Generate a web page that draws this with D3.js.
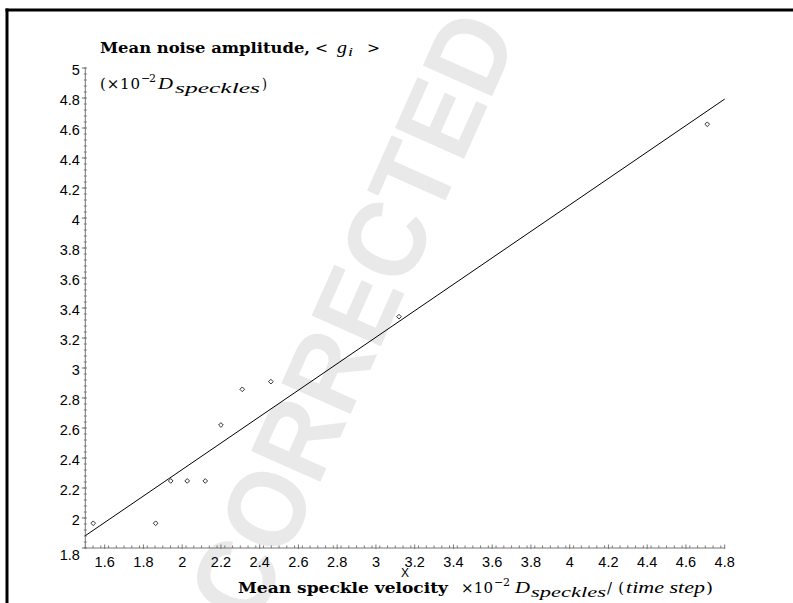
<!DOCTYPE html>
<html><head><meta charset="utf-8">
<script src="https://cdn.jsdelivr.net/npm/d3@7"></script>
<style>
body{margin:0;background:#fff;}
svg{display:block;}
</style></head>
<body>
<svg id="c" width="793" height="603"></svg>
<script>
// Data
const velocity = [1.541, 1.863, 1.941, 2.026, 2.119, 2.200, 2.310, 2.458, 3.119, 4.710];
const amplitude = [1.965, 1.965, 2.247, 2.247, 2.247, 2.620, 2.858, 2.909, 3.342, 4.625];
const fitX = [1.5, 4.8];
const fitY = [1.882, 4.793];
const xMajor = [1.6,1.8,2.0,2.2,2.4,2.6,2.8,3.0,3.2,3.4,3.6,3.8,4.0,4.2,4.4,4.6,4.8];
const yMajor = [1.8,2.0,2.2,2.4,2.6,2.8,3.0,3.2,3.4,3.6,3.8,4.0,4.2,4.4,4.6,4.8,5.0];
const xDomain = [1.5, 4.8];
const yDomain = [1.8, 5.0];

const svg = d3.select("#c");
const x = d3.scaleLinear().domain(xDomain).range([85.3, 724.7]);
const y = d3.scaleLinear().domain(yDomain).range([548, 68]);

// watermark
svg.append("text")
  .attr("transform","translate(352,316) rotate(-66)")
  .attr("text-anchor","middle").attr("dominant-baseline","central")
  .attr("font-family","Liberation Sans, Arial, sans-serif")
  .attr("font-size",110).attr("font-weight","bold").attr("fill","#e9e9e9")
  .attr("textLength",650).attr("lengthAdjust","spacingAndGlyphs")
  .text("CORRECTED");

// frame
svg.append("line").attr("x1",5.5).attr("x2",793).attr("y1",10).attr("y2",10).attr("stroke","#000").attr("stroke-width",3);
svg.append("line").attr("x1",7).attr("x2",7).attr("y1",8.5).attr("y2",603).attr("stroke","#000").attr("stroke-width",3);

const axisCol = "#777";
const xMinor = d3.range(0, 83).map(i => xDomain[0] + i*0.04).filter(v => v <= xDomain[1]+1e-9);
const yMinor = d3.range(0, 81).map(i => yDomain[0] + i*0.04).filter(v => v <= yDomain[1]+1e-9);

const gx = svg.append("g");
gx.append("line").attr("x1",x(xDomain[0])).attr("x2",x(xDomain[1])).attr("y1",y(yDomain[0])).attr("y2",y(yDomain[0])).attr("stroke",axisCol);
gx.selectAll(".mn").data(xMinor).join("line")
  .attr("x1",d=>x(d)).attr("x2",d=>x(d)).attr("y1",y(yDomain[0])).attr("y2",y(yDomain[0])-2.5)
  .attr("stroke",axisCol).attr("stroke-width",1);
gx.selectAll(".mj").data(xMajor).join("line")
  .attr("x1",d=>x(d)).attr("x2",d=>x(d)).attr("y1",y(yDomain[0])+1).attr("y2",y(yDomain[0])-3.5)
  .attr("stroke",axisCol).attr("stroke-width",1);
gx.selectAll("text").data(xMajor).join("text")
  .attr("x",d=>x(d)).attr("y",y(yDomain[0])+19)
  .attr("text-anchor","middle")
  .attr("font-family","Liberation Sans, Arial, sans-serif").attr("font-size",14.5)
  .text(d=>d3.format("~g")(d));

const gy = svg.append("g");
gy.append("line").attr("x1",x(xDomain[0])).attr("x2",x(xDomain[0])).attr("y1",y(yDomain[0])).attr("y2",y(yDomain[1])).attr("stroke",axisCol);
gy.selectAll(".mn").data(yMinor).join("line")
  .attr("x1",x(xDomain[0])-1.5).attr("x2",x(xDomain[0])+1.5).attr("y1",d=>y(d)).attr("y2",d=>y(d))
  .attr("stroke",axisCol).attr("stroke-width",1);
gy.selectAll(".mj").data(yMajor).join("line")
  .attr("x1",x(xDomain[0])-3.5).attr("x2",x(xDomain[0])+1).attr("y1",d=>y(d)).attr("y2",d=>y(d))
  .attr("stroke",axisCol).attr("stroke-width",1);
gy.selectAll("text").data(yMajor).join("text")
  .attr("x",x(xDomain[0])-5.5).attr("y",d=>y(d) + (d===yDomain[0] ? 12 : 7))
  .attr("text-anchor","end")
  .attr("font-family","Liberation Sans, Arial, sans-serif").attr("font-size",14.5)
  .text(d=>d3.format("~g")(d));

// fit line
svg.append("line")
  .attr("x1",x(fitX[0])).attr("y1",y(fitY[0])).attr("x2",x(fitX[1])).attr("y2",y(fitY[1]))
  .attr("stroke","#000").attr("stroke-width",1);

// points (diamonds)
const pts = velocity.map((v,i)=>[v, amplitude[i]]);
svg.selectAll(".pt").data(pts).join("path")
  .attr("d", d3.symbol().type(d3.symbolDiamond2).size(14))
  .attr("transform", d=>`translate(${x(d[0])},${y(d[1])})`)
  .attr("fill","#fff").attr("stroke","#000").attr("stroke-width",0.8);

// titles (math set as fragments)
const up = "DejaVu Serif, Liberation Serif, serif";
const it = "Liberation Serif, Times New Roman, serif";
function frag(x0, x1, yb, str, o) {
  o = o || {};
  const t = svg.append("text").attr("x",x0).attr("y",yb)
    .attr("font-family", o.italic ? it : up)
    .attr("font-size", o.size || 15)
    .attr("textLength", x1 - x0).attr("lengthAdjust", o.adj || "spacing")
    .text(str);
  if (o.bold) t.attr("font-weight","bold");
  if (o.italic) t.attr("font-style","italic");
  return t;
}
// y title line 1
frag(100, 310, 53, "Mean noise amplitude,", {bold:true, size:15.5, adj:"spacingAndGlyphs"});
frag(315, 328, 53, "<", {size:15, adj:"spacingAndGlyphs"});
frag(337, 347, 53, "g", {italic:true, size:17, adj:"spacingAndGlyphs"});
frag(348, 353, 56, "i", {italic:true, size:12, adj:"spacingAndGlyphs"});
frag(367, 380, 53, ">", {size:15, adj:"spacingAndGlyphs"});
// y title line 2
frag(100, 140, 89, "(×10", {size:15});
frag(141, 156, 82, "−2", {size:11});
frag(158, 173, 89, "D", {italic:true, size:17, adj:"spacingAndGlyphs"});
frag(175, 260, 93, "speckles", {italic:true, size:15.5, adj:"spacingAndGlyphs"});
frag(262, 267, 89, ")", {size:15, adj:"spacingAndGlyphs"});
// x title
frag(238, 448, 593, "Mean speckle velocity", {bold:true, size:15.5, adj:"spacingAndGlyphs"});
frag(461, 493, 593, "×10", {size:15});
frag(494, 510, 586, "−2", {size:11});
frag(515, 530, 593, "D", {italic:true, size:17, adj:"spacingAndGlyphs"});
frag(531, 606, 597, "speckles", {italic:true, size:15.5, adj:"spacingAndGlyphs"});
frag(607, 624, 593, "/(", {size:15});
frag(626, 705, 593, "time step", {italic:true, size:17, adj:"spacingAndGlyphs"});
frag(706, 713, 593, ")", {size:15, adj:"spacingAndGlyphs"});

svg.append("text").attr("x",405).attr("y",577).attr("text-anchor","middle")
  .attr("font-family","Liberation Sans, Arial, sans-serif").attr("font-size",12).text("X");
</script>
</body></html>
